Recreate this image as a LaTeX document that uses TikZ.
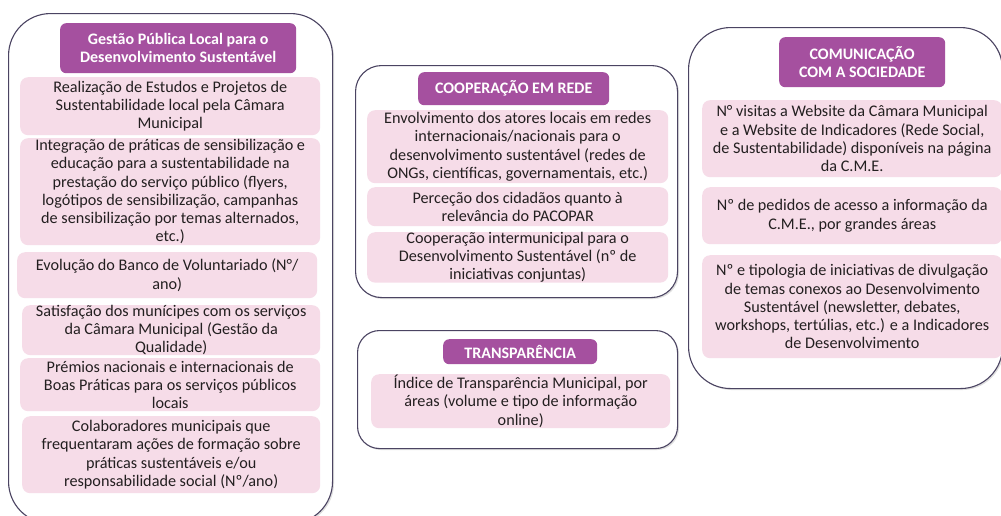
\documentclass[tikz,border=0pt]{standalone}
\usepackage{fontspec}
\setmainfont{Carlito}
\usetikzlibrary{positioning,shadows}
\definecolor{roxo}{HTML}{A5509F}
\definecolor{rosa}{HTML}{F6DCE8}
\definecolor{moldura}{HTML}{4B4462}
\definecolor{texto}{HTML}{231F20}

\tikzset{
  painel/.style={draw=moldura, line width=1.1pt, fill=white, anchor=north west,
    drop shadow={opacity=0.25, shadow xshift=1.5pt, shadow yshift=-1.5pt}},
  cabec/.style={fill=roxo, text=white, font=\bfseries\fontsize{16}{18}\selectfont,
    rounded corners=6pt, align=center, inner sep=0pt, anchor=north west},
  item/.style={fill=rosa, text=texto, rounded corners=8pt, align=center,
    font=\fontsize{16.2}{18.2}\selectfont, inner sep=0pt, anchor=north west},
}

\begin{document}
\begin{tikzpicture}[x=1pt,y=-1pt]
\useasboundingbox (0,0) rectangle (1001,515);

% painel esquerdo
\node[painel, rounded corners=42pt, minimum width=324pt, minimum height=510pt] (pgest) at (8,13) {};
\node[cabec, minimum width=236pt, minimum height=50pt] (gest) at (60,23) {Gestão Pública Local para o\\Desenvolvimento Sustentável};
\node[item, minimum width=300pt, minimum height=58pt] (g1) at (20,77) {Realização de Estudos e Projetos de\\Sustentabilidade local pela Câmara\\Municipal};
\node[item, minimum width=300pt, minimum height=107pt] (g2) at (20,138) {Integração de práticas de sensibilização e\\educação para a sustentabilidade na\\prestação do serviço público (flyers,\\logótipos de sensibilização, campanhas\\de sensibilização por temas alternados,\\etc.)};
\node[item, minimum width=300pt, minimum height=46pt] (g3) at (17,252) {Evolução do Banco de Voluntariado (N°/\\ano)};
\node[item, minimum width=298pt, minimum height=47pt] (g4) at (22,305) {Satisfação dos munícipes com os serviços\\da Câmara Municipal (Gestão da\\Qualidade)};
\node[item, minimum width=300pt, minimum height=53pt] (g5) at (20,358) {Prémios nacionais e internacionais de\\Boas Práticas para os serviços públicos\\locais};
\node[item, minimum width=298pt, minimum height=77pt] (g6) at (22,416) {Colaboradores municipais que\\frequentaram ações de formação sobre\\práticas sustentáveis e/ou\\responsabilidade social (Nº/ano)};

% painel do meio, em cima
\node[painel, rounded corners=26pt, minimum width=322pt, minimum height=232pt] (pcoop) at (355,65) {};
\node[cabec, minimum width=191pt, minimum height=33pt] (coop) at (418,72) {COOPERAÇÃO EM REDE};
\node[item, minimum width=301pt, minimum height=73pt] (c1) at (367,110) {Envolvimento dos atores locais em redes\\internacionais/nacionais para o\\desenvolvimento sustentável (redes de\\ONGs, científicas, governamentais, etc.)};
\node[item, minimum width=301pt, minimum height=39pt] (c2) at (367,187) {Perceção dos cidadãos quanto à\\relevância do PACOPAR};
\node[item, minimum width=301pt, minimum height=48pt] (c3) at (367,232) {Cooperação intermunicipal para o\\Desenvolvimento Sustentável (nº de\\iniciativas conjuntas)};

% painel do meio, em baixo
\node[painel, rounded corners=22pt, minimum width=320pt, minimum height=118pt] (ptran) at (357,330) {};
\node[cabec, minimum width=154pt, minimum height=25pt] (tran) at (443,339) {TRANSPARÊNCIA};
\node[item, minimum width=299pt, minimum height=54pt] (t1) at (371,374) {Índice de Transparência Municipal, por\\áreas (volume e tipo de informação\\online)};

% painel direito
\node[painel, rounded corners=42pt, minimum width=314pt, minimum height=361pt] (pcom) at (688,27) {};
\node[cabec, minimum width=166pt, minimum height=50pt] (com) at (779,37) {COMUNICAÇÃO\\COM A SOCIEDADE};
\node[item, minimum width=300pt, minimum height=77pt] (m1) at (702,100) {N° visitas a Website da Câmara Municipal\\e a Website de Indicadores (Rede Social,\\de Sustentabilidade) disponíveis na página\\da C.M.E.};
\node[item, minimum width=300pt, minimum height=57pt] (m2) at (702,187) {Nº de pedidos de acesso a informação da\\C.M.E., por grandes áreas};
\node[item, minimum width=300pt, minimum height=103pt] (m3) at (702,255) {Nº e tipologia de iniciativas de divulgação\\de temas conexos ao Desenvolvimento\\Sustentável (newsletter, debates,\\workshops, tertúlias, etc.) e a Indicadores\\de Desenvolvimento};
\end{tikzpicture}
\end{document}
